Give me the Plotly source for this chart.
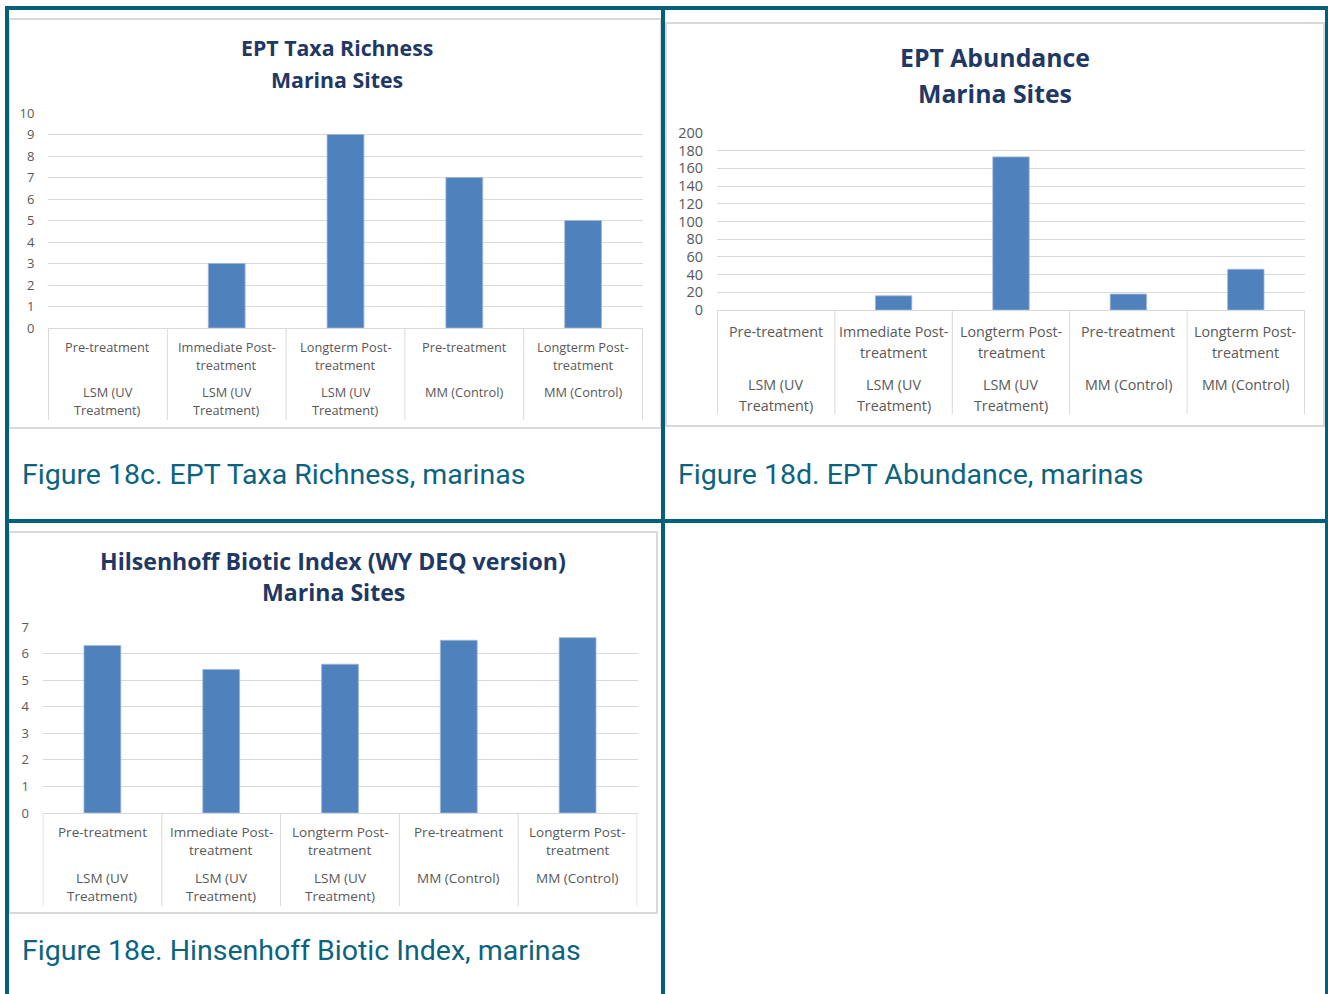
import plotly.graph_objects as go

# ---- data -------------------------------------------------------------
phases = ["Pre-treatment", "Immediate Post-\ntreatment", "Longterm Post-\ntreatment",
          "Pre-treatment", "Longterm Post-\ntreatment"]
sites = ["LSM (UV\nTreatment)", "LSM (UV\nTreatment)", "LSM (UV\nTreatment)",
         "MM (Control)", "MM (Control)"]
keys = [f"{p} | {s}" for p, s in zip(phases, sites)]

ept_richness = [0, 3, 9, 7, 5]
ept_abundance = [0, 16, 173, 18, 46]
hbi_values = [6.3, 5.4, 5.6, 6.5, 6.6]

titles = [["EPT Taxa Richness", "Marina Sites"],
          ["EPT Abundance", "Marina Sites"],
          ["Hilsenhoff Biotic Index (WY DEQ version)", "Marina Sites"]]
captions = ["Figure 18c. EPT Taxa Richness, marinas",
            "Figure 18d. EPT Abundance, marinas",
            "Figure 18e. Hinsenhoff Biotic Index, marinas"]

# ---- page geometry (pixels) ------------------------------------------
W, H = 1328, 994
TEAL = "#03607A"
CAPTION = "#0B6380"
NAVY = "#1F3864"
GRID = "#D9D9D9"
TICK = "#595959"
BAR = "#4F81BD"


def px(x):
    return x / W


def py(y):
    return 1 - y / H


panels = [
    dict(vals=ept_richness, x0=48, x1=643, yb=328, yt=113, rng=[0, 10], dt=1,
         sep=420, frame=(9, 19, 661, 428), tc=337, ty=(48, 79), tf=21.3,
         lines=(347, 365, 392, 410), lf=12.8, kf=13, cap=(20, 475)),
    dict(vals=ept_abundance, x0=717, x1=1305, yb=310, yt=133, rng=[0, 200], dt=20,
         sep=414, frame=(666, 23, 1324, 426), tc=995, ty=(57, 93), tf=24.8,
         lines=(332, 353, 385, 405), lf=14.3, kf=14.5, cap=(676, 475)),
    dict(vals=hbi_values, x0=42.5, x1=637.5, yb=813, yt=627, rng=[0, 7], dt=1,
         sep=906, frame=(9, 532, 657, 913), tc=333, ty=(561, 592), tf=23.1,
         lines=(832, 850, 878, 896), lf=13.5, kf=13, cap=(20, 950)),
]

fig = go.Figure()
shapes, annotations = [], []

for i, p in enumerate(panels):
    n = "" if i == 0 else str(i + 1)
    xa, ya = "x" + n, "y" + n
    fig.add_trace(go.Bar(
        x=keys, y=p["vals"], xaxis=xa, yaxis=ya,
        marker=dict(color=BAR,
                    line=dict(color="#9DB8DC", width=[0.8 if v else 0 for v in p["vals"]])),
        hoverinfo="x+y", showlegend=False,
    ))
    fig.layout["xaxis" + n] = dict(
        domain=[px(p["x0"]), px(p["x1"])], anchor=ya, type="category",
        categoryorder="array", categoryarray=keys, automargin=False,
        showticklabels=False, ticks="", showgrid=False, zeroline=False,
        showline=True, linecolor=GRID, linewidth=1, fixedrange=True,
    )
    fig.layout["yaxis" + n] = dict(
        domain=[py(p["yb"]), py(p["yt"])], anchor=xa, range=p["rng"], dtick=p["dt"],
        showgrid=True, gridcolor=GRID, gridwidth=1, zeroline=False, showline=False,
        ticks="outside", ticklen=10, tickcolor="rgba(0,0,0,0)", automargin=False,
        tickfont=dict(family="Open Sans", size=p["kf"], color=TICK), fixedrange=True,
    )

    # category separators below the axis
    plot_h = p["yb"] - p["yt"]
    for b in range(len(keys) + 1):
        shapes.append(dict(type="line", xref=xa, yref=ya + " domain",
                           x0=b - 0.5, x1=b - 0.5, y0=0, y1=-(p["sep"] - p["yb"]) / plot_h,
                           line=dict(color=GRID, width=1)))

    # category labels: phase block and site block
    l1, l2, g1, g2 = p["lines"]
    for k, ph, st in zip(keys, phases, sites):
        for txt, yy in list(zip(ph.split("\n"), (l1, l2))) + list(zip(st.split("\n"), (g1, g2))):
            annotations.append(dict(xref=xa, yref="paper", x=k, y=py(yy), text=txt,
                                    showarrow=False, xanchor="center", yanchor="middle",
                                    font=dict(family="Open Sans", size=p["lf"], color=TICK)))

    # chart title
    for txt, yy in zip(titles[i], p["ty"]):
        annotations.append(dict(xref="paper", yref="paper", x=px(p["tc"]), y=py(yy),
                                text=f"<b>{txt}</b>", showarrow=False,
                                xanchor="center", yanchor="middle",
                                font=dict(family="Open Sans", size=p["tf"], color=NAVY)))

    # chart frame
    fx0, fy0, fx1, fy1 = p["frame"]
    shapes.append(dict(type="rect", xref="paper", yref="paper", x0=px(fx0), x1=px(fx1),
                       y0=py(fy1), y1=py(fy0), line=dict(color=GRID, width=2), layer="below"))

    # caption
    cx, cy = p["cap"]
    annotations.append(dict(xref="paper", yref="paper", x=px(cx), y=py(cy), text=captions[i],
                            showarrow=False, xanchor="left", yanchor="middle",
                            font=dict(family="Roboto", size=28.5, color=CAPTION)))

# teal table rules
for (x0, y0, x1, y1, w) in [
    (5, 8, W, 8, 4),            # top
    (7, 6, 7, H, 4),            # left
    (663, 6, 663, H, 4),        # middle vertical
    (5, 521, W, 521, 4),        # middle horizontal
    (1326.5, 6, 1326.5, H, 3),  # right
]:
    shapes.append(dict(type="line", xref="paper", yref="paper",
                       x0=px(x0), x1=px(x1), y0=py(y0), y1=py(y1),
                       line=dict(color=TEAL, width=w)))

fig.update_layout(
    width=W, height=H,
    margin=dict(l=0, r=0, t=0, b=0, pad=0, autoexpand=False),
    paper_bgcolor="white", plot_bgcolor="white",
    bargap=0.69, shapes=shapes, annotations=annotations,
)

fig.write_html("out.html", config={"displayModeBar": False})
